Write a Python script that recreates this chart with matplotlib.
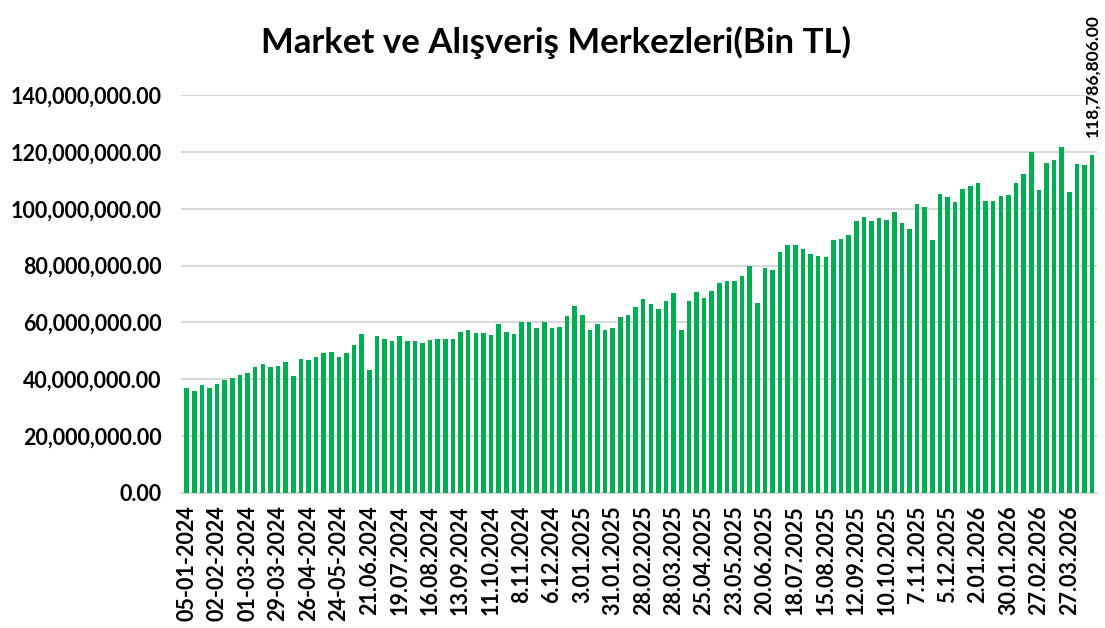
import matplotlib
matplotlib.use("Agg")
import matplotlib.pyplot as plt
from matplotlib.ticker import FuncFormatter, MultipleLocator

# Weekly values, million TL, last one exact
values_m = [
    36.8, 35.9, 37.9, 37.0, 38.4, 39.9, 40.6, 41.5, 42.3, 44.4,
    45.3, 44.3, 44.7, 46.0, 41.3, 47.3, 46.8, 47.8, 49.2, 49.7,
    48.0, 49.1, 52.0, 56.0, 43.3, 55.3, 54.1, 53.6, 55.1, 53.5,
    53.5, 52.8, 53.7, 54.2, 54.1, 54.1, 56.8, 57.2, 56.3, 56.2,
    55.7, 59.4, 56.7, 56.1, 60.3, 60.3, 58.2, 60.3, 58.2, 58.5,
    62.3, 65.7, 62.7, 57.5, 59.6, 57.2, 57.9, 62.0, 62.6, 65.3,
    68.2, 66.4, 64.8, 67.4, 70.2, 57.5, 67.6, 70.8, 68.7, 71.0,
    74.0, 74.7, 74.6, 76.2, 79.9, 66.8, 79.0, 78.5, 84.7, 87.1,
    87.3, 85.8, 84.2, 83.3, 83.0, 89.0, 89.4, 90.6, 95.7, 97.1,
    95.6, 96.9, 96.0, 99.0, 94.9, 92.9, 101.6, 100.7, 88.9, 105.3,
    104.1, 102.5, 106.9, 108.0, 109.1, 102.8, 102.8, 104.6, 105.0, 109.1,
    112.3, 119.9, 106.5, 116.1, 117.0, 121.6, 105.9, 115.7, 115.3, 118.786806,
]
values = [v * 1e6 for v in values_m]
last_label = "118,786,806.00"

# every fourth week carries a label
tick_labels = [
    "05-01-2024", "02-02-2024", "01-03-2024", "29-03-2024", "26-04-2024",
    "24-05-2024", "21.06.2024", "19.07.2024", "16.08.2024", "13.09.2024",
    "11.10.2024", "8.11.2024", "6.12.2024", "3.01.2025", "31.01.2025",
    "28.02.2025", "28.03.2025", "25.04.2025", "23.05.2025", "20.06.2025",
    "18.07.2025", "15.08.2025", "12.09.2025", "10.10.2025", "7.11.2025",
    "5.12.2025", "2.01.2026", "30.01.2026", "27.02.2026", "27.03.2026",
]
tick_pos = list(range(0, 4 * len(tick_labels), 4))

plt.rcParams['font.family'] = ['Lato', 'DejaVu Sans']

fig = plt.figure(figsize=(11.05, 6.28), dpi=100)
ax = fig.add_axes([0.1638, 0.2150, 0.8290, 0.6337])

x = list(range(len(values)))
ax.bar(x, values, width=0.6, color='#00B050', zorder=3)

ax.set_ylim(0, 140e6)
ax.set_xlim(-0.75, len(values) - 0.35)
ax.yaxis.set_major_locator(MultipleLocator(20e6))
ax.yaxis.set_major_formatter(FuncFormatter(lambda v, p: "{:,.2f}".format(v)))
ax.grid(axis='y', color='#D9D9D9', linewidth=1.5, zorder=0)
ax.set_axisbelow(True)

ax.set_xticks(tick_pos)
ax.set_xticklabels(tick_labels, rotation=90, fontsize=15.5, fontweight='bold')
for lbl in ax.get_yticklabels():
    lbl.set_fontsize(15.5)
    lbl.set_fontweight('bold')
ax.tick_params(axis='both', length=0)
ax.tick_params(axis='y', pad=14)
ax.tick_params(axis='x', pad=9)

for s in ['top', 'right', 'left']:
    ax.spines[s].set_visible(False)
ax.spines['bottom'].set_color('#D9D9D9')
ax.spines['bottom'].set_linewidth(1.5)

ax.annotate(last_label, (x[-1], values[-1]), xytext=(0, 13),
            textcoords='offset points', rotation=90, ha='center', va='bottom',
            fontsize=12.5, fontweight='bold', annotation_clip=False)

fig.text(0.503, 0.933, "Market ve Alışveriş Merkezleri(Bin TL)", ha='center',
         va='center', fontsize=25, fontweight='bold')

fig.savefig("out.png", dpi=100)
